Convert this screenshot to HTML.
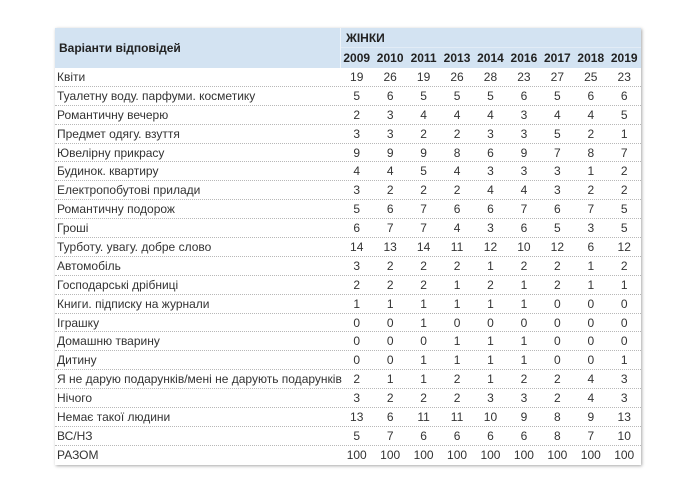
<!DOCTYPE html>
<html><head><meta charset="utf-8">
<style>
html,body{margin:0;padding:0;background:#fff;width:700px;height:500px;overflow:hidden}
body{font-family:"Liberation Sans",Arial,sans-serif;color:#333}
#t{position:absolute;left:55px;top:28px;width:586px;box-shadow:1px 1px 3px rgba(0,0,0,0.35);background:#fff}
.hd{position:relative;height:40px;background:#d3e3f2}
.hl{position:absolute;left:0;top:0;width:285px;height:40px;line-height:40px;padding-left:4px;font-weight:bold;font-size:12px;color:#222}
.sep{position:absolute;left:285px;top:0;width:1px;height:40px;background:#eef4fa}
.zh{position:absolute;left:291px;top:0;height:19px;line-height:20px;font-weight:bold;font-size:12px;color:#222}
.hsep{position:absolute;left:286px;top:19px;width:300px;height:1px;background:#e2ecf6}
.yr{position:absolute;left:285px;top:20px;height:20px;display:flex}
.yr div{width:33.44px;text-align:center;line-height:20px;font-weight:bold;font-size:12px;color:#222}
.r{display:flex;height:18.9px;border-bottom:1px dotted #b8b8b8;box-sizing:border-box}
.r:last-child{border-bottom:none}
.r .l{width:285px;padding-left:2px;box-sizing:border-box;font-size:12px;line-height:18px;white-space:nowrap}
.r .n{width:33.44px;text-align:center;font-size:12px;line-height:18px}
</style></head><body>
<div id="t">
<div class="hd">
<div class="hl">Варіанти відповідей</div>
<div class="sep"></div>
<div class="zh">ЖІНКИ</div>
<div class="hsep"></div>
<div class="yr"><div>2009</div><div>2010</div><div>2011</div><div>2013</div><div>2014</div><div>2016</div><div>2017</div><div>2018</div><div>2019</div></div>
</div>
<div class="r"><div class="l">Квіти</div><div class="n">19</div><div class="n">26</div><div class="n">19</div><div class="n">26</div><div class="n">28</div><div class="n">23</div><div class="n">27</div><div class="n">25</div><div class="n">23</div></div>
<div class="r"><div class="l">Туалетну воду. парфуми. косметику</div><div class="n">5</div><div class="n">6</div><div class="n">5</div><div class="n">5</div><div class="n">5</div><div class="n">6</div><div class="n">5</div><div class="n">6</div><div class="n">6</div></div>
<div class="r"><div class="l">Романтичну вечерю</div><div class="n">2</div><div class="n">3</div><div class="n">4</div><div class="n">4</div><div class="n">4</div><div class="n">3</div><div class="n">4</div><div class="n">4</div><div class="n">5</div></div>
<div class="r"><div class="l">Предмет одягу. взуття</div><div class="n">3</div><div class="n">3</div><div class="n">2</div><div class="n">2</div><div class="n">3</div><div class="n">3</div><div class="n">5</div><div class="n">2</div><div class="n">1</div></div>
<div class="r"><div class="l">Ювелірну прикрасу</div><div class="n">9</div><div class="n">9</div><div class="n">9</div><div class="n">8</div><div class="n">6</div><div class="n">9</div><div class="n">7</div><div class="n">8</div><div class="n">7</div></div>
<div class="r"><div class="l">Будинок. квартиру</div><div class="n">4</div><div class="n">4</div><div class="n">5</div><div class="n">4</div><div class="n">3</div><div class="n">3</div><div class="n">3</div><div class="n">1</div><div class="n">2</div></div>
<div class="r"><div class="l">Електропобутові прилади</div><div class="n">3</div><div class="n">2</div><div class="n">2</div><div class="n">2</div><div class="n">4</div><div class="n">4</div><div class="n">3</div><div class="n">2</div><div class="n">2</div></div>
<div class="r"><div class="l">Романтичну подорож</div><div class="n">5</div><div class="n">6</div><div class="n">7</div><div class="n">6</div><div class="n">6</div><div class="n">7</div><div class="n">6</div><div class="n">7</div><div class="n">5</div></div>
<div class="r"><div class="l">Гроші</div><div class="n">6</div><div class="n">7</div><div class="n">7</div><div class="n">4</div><div class="n">3</div><div class="n">6</div><div class="n">5</div><div class="n">3</div><div class="n">5</div></div>
<div class="r"><div class="l">Турботу. увагу. добре слово</div><div class="n">14</div><div class="n">13</div><div class="n">14</div><div class="n">11</div><div class="n">12</div><div class="n">10</div><div class="n">12</div><div class="n">6</div><div class="n">12</div></div>
<div class="r"><div class="l">Автомобіль</div><div class="n">3</div><div class="n">2</div><div class="n">2</div><div class="n">2</div><div class="n">1</div><div class="n">2</div><div class="n">2</div><div class="n">1</div><div class="n">2</div></div>
<div class="r"><div class="l">Господарські дрібниці</div><div class="n">2</div><div class="n">2</div><div class="n">2</div><div class="n">1</div><div class="n">2</div><div class="n">1</div><div class="n">2</div><div class="n">1</div><div class="n">1</div></div>
<div class="r"><div class="l">Книги. підписку на журнали</div><div class="n">1</div><div class="n">1</div><div class="n">1</div><div class="n">1</div><div class="n">1</div><div class="n">1</div><div class="n">0</div><div class="n">0</div><div class="n">0</div></div>
<div class="r"><div class="l">Іграшку</div><div class="n">0</div><div class="n">0</div><div class="n">1</div><div class="n">0</div><div class="n">0</div><div class="n">0</div><div class="n">0</div><div class="n">0</div><div class="n">0</div></div>
<div class="r"><div class="l">Домашню тварину</div><div class="n">0</div><div class="n">0</div><div class="n">0</div><div class="n">1</div><div class="n">1</div><div class="n">1</div><div class="n">0</div><div class="n">0</div><div class="n">0</div></div>
<div class="r"><div class="l">Дитину</div><div class="n">0</div><div class="n">0</div><div class="n">1</div><div class="n">1</div><div class="n">1</div><div class="n">1</div><div class="n">0</div><div class="n">0</div><div class="n">1</div></div>
<div class="r"><div class="l">Я не дарую подарунків/мені не дарують подарунків</div><div class="n">2</div><div class="n">1</div><div class="n">1</div><div class="n">2</div><div class="n">1</div><div class="n">2</div><div class="n">2</div><div class="n">4</div><div class="n">3</div></div>
<div class="r"><div class="l">Нічого</div><div class="n">3</div><div class="n">2</div><div class="n">2</div><div class="n">2</div><div class="n">3</div><div class="n">3</div><div class="n">2</div><div class="n">4</div><div class="n">3</div></div>
<div class="r"><div class="l">Немає такої людини</div><div class="n">13</div><div class="n">6</div><div class="n">11</div><div class="n">11</div><div class="n">10</div><div class="n">9</div><div class="n">8</div><div class="n">9</div><div class="n">13</div></div>
<div class="r"><div class="l">ВС/НЗ</div><div class="n">5</div><div class="n">7</div><div class="n">6</div><div class="n">6</div><div class="n">6</div><div class="n">6</div><div class="n">8</div><div class="n">7</div><div class="n">10</div></div>
<div class="r"><div class="l">РАЗОМ</div><div class="n">100</div><div class="n">100</div><div class="n">100</div><div class="n">100</div><div class="n">100</div><div class="n">100</div><div class="n">100</div><div class="n">100</div><div class="n">100</div></div>
</div>
</body></html>
